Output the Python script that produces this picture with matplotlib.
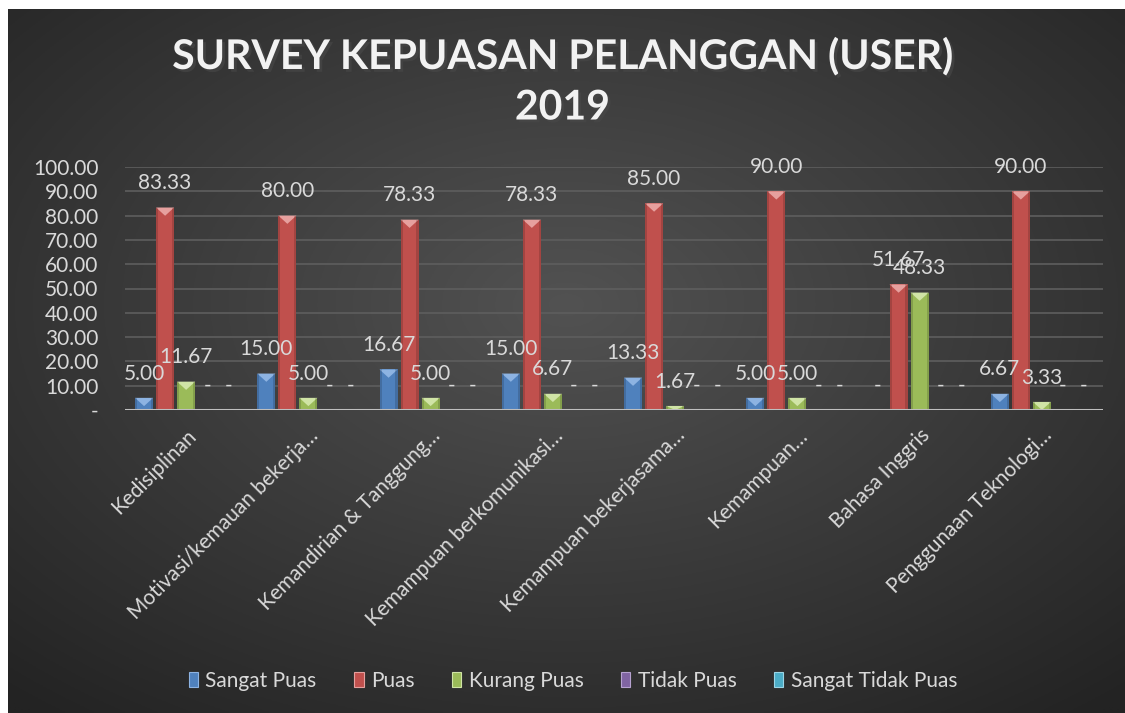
import numpy as np
import matplotlib.pyplot as plt
from matplotlib.patches import Polygon, Rectangle, Patch
import matplotlib.patheffects as pe

categories = ["Kedisiplinan", "Motivasi/kemauan bekerja…", "Kemandirian & Tanggung…",
              "Kemampuan berkomunikasi…", "Kemampuan bekerjasama…", "Kemampuan…",
              "Bahasa Inggris", "Penggunaan Teknologi…"]
series_names = ["Sangat Puas", "Puas", "Kurang Puas", "Tidak Puas", "Sangat Tidak Puas"]
sangat_puas = [5.00, 15.00, 16.67, 15.00, 13.33, 5.00, 0.00, 6.67]
puas = [83.33, 80.00, 78.33, 78.33, 85.00, 90.00, 51.67, 90.00]
kurang_puas = [11.67, 5.00, 5.00, 6.67, 1.67, 5.00, 48.33, 3.33]
tidak_puas = [0, 0, 0, 0, 0, 0, 0, 0]
sangat_tidak_puas = [0, 0, 0, 0, 0, 0, 0, 0]
series = [sangat_puas, puas, kurang_puas, tidak_puas, sangat_tidak_puas]
colors = ["#4F81BD", "#C0504D", "#9BBB59", "#8064A2", "#4BACC6"]
light = ["#8DB3E2", "#E6A09E", "#D0E4A6", "#B6A2D0", "#9BD5E6"]
yticks = [0, 10, 20, 30, 40, 50, 60, 70, 80, 90, 100]

plt.rcParams['font.family'] = ['Lato', 'DejaVu Sans']
txt = "#D9D9D9"

fig = plt.figure(figsize=(11.25, 7.13), dpi=100)
fig.patch.set_facecolor("white")

# dark radial background (white strip only on top and left)
bg = fig.add_axes([8 / 1125, 0, 1117 / 1125, 704 / 713])
yy, xx = np.mgrid[0:1:300j, 0:1:480j]
r = np.sqrt(((xx - 0.5) / 0.75) ** 2 + ((yy - 0.42) / 0.75) ** 2)
r = np.clip(r, 0, 1)
c0, c1 = np.array([0x52, 0x52, 0x52]) / 255, np.array([0x23, 0x23, 0x23]) / 255
img = c0[None, None, :] * (1 - r[..., None]) + c1[None, None, :] * r[..., None]
bg.imshow(img, aspect="auto", extent=[0, 1, 0, 1], origin="upper")
bg.axis("off")

ax = fig.add_axes([125 / 1125, 1 - 410 / 713, 978 / 1125, 243 / 713])
ax.patch.set_alpha(0)
n = len(categories)
x = np.arange(n)
step, w = 0.172, 0.148
for j, vals in enumerate(series):
    pos = x + (j - 2) * step
    bars = ax.bar(pos, vals, width=w, color=colors[j], zorder=3)
    for b, v in zip(bars, vals):
        x0, x1 = b.get_x(), b.get_x() + b.get_width()
        top = b.get_height()
        if top > 0:
            # bevel-ish look: light triangle on top, darker sides
            h = min(3.4, top)
            ax.add_patch(Polygon([(x0, top), (x1, top), ((x0 + x1) / 2, top - h)],
                                 closed=True, color=light[j], zorder=4, lw=0))
            ax.add_patch(Rectangle((x0, 0), b.get_width() * 0.12, top, color="black",
                                   alpha=0.15, zorder=4, lw=0))
            ax.add_patch(Rectangle((x1 - b.get_width() * 0.12, 0), b.get_width() * 0.12, top,
                                   color="black", alpha=0.15, zorder=4, lw=0))
        label = f"{v:.2f}" if v else "-"
        ax.text((x0 + x1) / 2, top + 10, label, ha="center", va="center",
                fontsize=15, color=txt, zorder=5)

ax.set_xlim(-0.5, n - 0.5)
ax.set_ylim(0, 100)
ax.set_yticks(yticks)
ax.set_yticklabels([f"{t:.2f}" if t else "-" for t in yticks], fontsize=15, color=txt)
ax.yaxis.grid(True, color="#5E5E5E", lw=1.2, zorder=0)
ax.set_axisbelow(True)
ax.axhline(0, color="#BFBFBF", lw=2.2, zorder=6)
ax.set_xticks(x)
ax.set_xticklabels(categories, rotation=45, ha="right", va="top", rotation_mode="anchor",
                   fontsize=15, color=txt)
ax.tick_params(length=0)
ax.tick_params(axis="y", pad=19)
ax.tick_params(axis="x", pad=11)
for s in ax.spines.values():
    s.set_visible(False)

shadow = [pe.withSimplePatchShadow(offset=(2, -2), alpha=0.6)]
fig.text(0.5, 1 - 57 / 713, "SURVEY KEPUASAN PELANGGAN (USER)", ha="center", va="center",
         fontsize=29.5, fontweight="bold", color="#F2F2F2", path_effects=shadow)
fig.text(0.5, 1 - 108 / 713, "2019", ha="center", va="center",
         fontsize=29.5, fontweight="bold", color="#F2F2F2", path_effects=shadow)

handles = [Patch(facecolor=c, edgecolor=l, lw=0.8) for c, l in zip(colors, light)]
fig.legend(handles, series_names, loc="center", bbox_to_anchor=(573 / 1125, 1 - 681 / 713),
           ncol=5, frameon=False, fontsize=15, labelcolor=txt, handlelength=0.45,
           handleheight=0.7, handletextpad=0.35, columnspacing=1.8)

fig.savefig("out.png", dpi=100, facecolor=fig.get_facecolor())
